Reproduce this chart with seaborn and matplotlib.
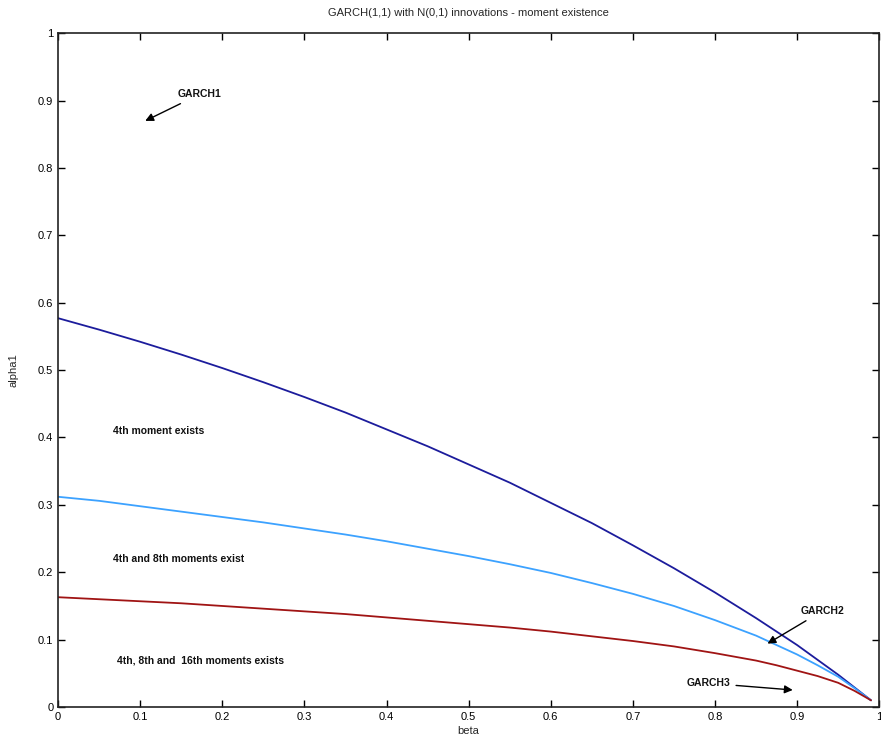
import numpy as np
import pandas as pd
import matplotlib
matplotlib.use("Agg")
import matplotlib.pyplot as plt
import seaborn as sns

# -------------------------------------------------------- data
beta = [0.0, 0.05, 0.1, 0.15, 0.2, 0.25, 0.3, 0.35, 0.4, 0.45, 0.5, 0.55, 0.6,
        0.65, 0.7, 0.75, 0.8, 0.85, 0.875, 0.9, 0.925, 0.95, 0.97, 0.99]
alpha_4th = [0.577, 0.560, 0.542, 0.523, 0.503, 0.482, 0.460, 0.437, 0.412, 0.387,
             0.360, 0.333, 0.303, 0.273, 0.240, 0.206, 0.170, 0.132, 0.112, 0.092,
             0.070, 0.048, 0.029, 0.010]
alpha_8th = [0.312, 0.306, 0.298, 0.290, 0.282, 0.274, 0.265, 0.256, 0.246, 0.235,
             0.224, 0.212, 0.199, 0.184, 0.168, 0.150, 0.129, 0.106, 0.092, 0.078,
             0.062, 0.045, 0.028, 0.010]
alpha_16th = [0.163, 0.160, 0.157, 0.154, 0.150, 0.146, 0.142, 0.138, 0.133, 0.128,
              0.123, 0.118, 0.112, 0.105, 0.098, 0.090, 0.080, 0.069, 0.062, 0.054,
              0.046, 0.036, 0.024, 0.010]

curve_names = ["4th", "8th", "16th"]
ticks = [0, 0.1, 0.2, 0.3, 0.4, 0.5, 0.6, 0.7, 0.8, 0.9, 1]
tick_labels = ["0", "0.1", "0.2", "0.3", "0.4", "0.5", "0.6", "0.7", "0.8", "0.9", "1"]

df = pd.DataFrame({
    "beta": beta * 3,
    "alpha1": alpha_4th + alpha_8th + alpha_16th,
    "moment": [n for n in curve_names for _ in beta],
})

sns.set_theme(style="white")
plt.rcParams["font.family"] = ["Liberation Sans", "DejaVu Sans"]

fig = plt.figure(figsize=(8.81, 7.53), dpi=100)
ax = fig.add_axes([0.066, 0.061, 0.932, 0.895])

palette = {"4th": "#1c1c9c", "8th": "#3ca2ff", "16th": "#a01414"}
sns.lineplot(data=df, x="beta", y="alpha1", hue="moment", palette=palette,
             linewidth=1.3, legend=False, ax=ax)

ax.set_xlim(0, 1)
ax.set_ylim(0, 1)
ax.set_xticks(ticks)
ax.set_xticklabels(tick_labels)
ax.set_yticks(ticks)
ax.set_yticklabels(tick_labels)
ax.tick_params(direction="in", length=5, width=1, labelsize=8,
               top=True, right=True, bottom=True, left=True, colors="black")
for sp in ax.spines.values():
    sp.set_visible(True)
    sp.set_color("#222222")
    sp.set_linewidth(1.2)

ax.set_title("GARCH(1,1) with N(0,1) innovations - moment existence",
             fontsize=8, pad=12)
ax.set_xlabel("beta", fontsize=8, labelpad=3)
ax.set_ylabel("alpha1", fontsize=8, labelpad=14)

txt = dict(fontsize=7.5, fontweight="bold", color="#111111")
ax.text(0.067, 0.405, "4th moment exists", **txt)
ax.text(0.067, 0.215, "4th and 8th moments exist", **txt)
ax.text(0.072, 0.065, "4th, 8th and  16th moments exists", **txt)

arr = dict(arrowstyle="-|>", color="black", lw=1, mutation_scale=12)
ax.annotate("GARCH1", xy=(0.103, 0.868), xytext=(0.146, 0.905),
            arrowprops=arr, **txt)
ax.annotate("GARCH2", xy=(0.861, 0.092), xytext=(0.904, 0.138),
            arrowprops=arr, **txt)
ax.annotate("GARCH3", xy=(0.898, 0.025), xytext=(0.765, 0.028),
            arrowprops=arr, va="bottom", **txt)

fig.savefig("out.png", dpi=100)
